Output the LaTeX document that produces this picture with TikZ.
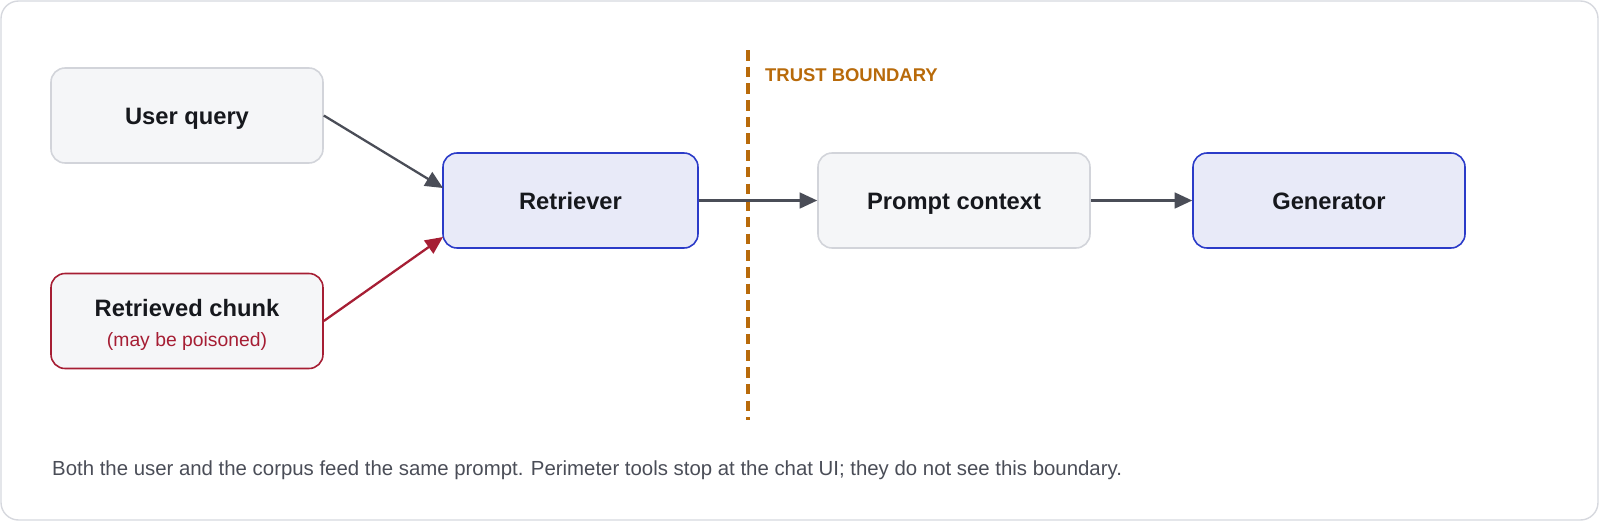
\documentclass[tikz,border=0pt]{standalone}
\usepackage{fontspec}
\setmainfont{Liberation Sans}
\usetikzlibrary{arrows.meta}
\definecolor{frame}{HTML}{D6D8DE}
\definecolor{nfill}{HTML}{F5F6F8}
\definecolor{ndraw}{HTML}{D2D4DA}
\definecolor{bfill}{HTML}{E8EAF8}
\definecolor{bdraw}{HTML}{2B3BC8}
\definecolor{rdraw}{HTML}{A61E34}
\definecolor{edge}{HTML}{4A4D57}
\definecolor{trust}{HTML}{B86A0A}
\definecolor{txt}{HTML}{16181D}
\definecolor{cap}{HTML}{4A4D57}
\begin{document}
\begin{tikzpicture}[x=0.02cm,y=-0.02cm,
  box/.style={draw=ndraw,fill=nfill,rounded corners=8pt,line width=0.9pt,minimum width=272*0.02cm,minimum height=95*0.02cm,align=center,text=txt,font=\bfseries\fontsize{13.5}{16}\selectfont},
  blue/.style={box,draw=bdraw,fill=bfill},
  red/.style={box,draw=rdraw},
  lbl/.style={text=txt,font=\bfseries\fontsize{13.5}{16}\selectfont,text height=10pt,text depth=3pt},
  arr/.style={-{Triangle[length=10pt,width=9pt]},line width=1.3pt,draw=edge}]
\useasboundingbox (0,0) rectangle (1600,522);
\draw[frame,line width=0.8pt,rounded corners=10pt] (1,1) rectangle (1598,520);
\node[box] (uq) at (187,115.5) {};
\node[lbl] (uqt) at (187,118) {User query};
\node[red] (rc) at (187,321) {};
\node[lbl] (rct) at (187,310) {Retrieved chunk};
\node[text=rdraw,font=\fontsize{11}{13}\selectfont] (rcs) at (187,341) {(may be poisoned)};
\node[blue,minimum width=255*0.02cm] (ret) at (570.5,200.5) {};
\node[lbl] (rett) at (570.5,203) {Retriever};
\node[box] (pc) at (954,200.5) {};
\node[lbl] (pct) at (954,203) {Prompt context};
\node[blue] (gen) at (1329,200.5) {};
\node[lbl] (gent) at (1329,203) {Generator};
\coordinate (t1) at (748,50); \coordinate (t2) at (748,420);
\draw[trust,line width=1.8pt,dash pattern=on 6pt off 3.5pt] (t1) -- (t2);
\node[anchor=west,text=trust,font=\bfseries\fontsize{10.5}{12}\selectfont] (tl) at (759,75) {TRUST BOUNDARY};
\draw[arr] (uq.east) -- (443,188);
\draw[arr,draw=rdraw] (rc.east) -- (443,237);
\draw[arr] (ret) -- (pc);
\draw[arr] (pc) -- (gen);
\node[anchor=west,text=cap,font=\fontsize{11.6}{14}\selectfont] (capt) at (46,470) {Both the user and the corpus feed the same prompt. Perimeter tools stop at the chat UI; they do not see this boundary.};
\end{tikzpicture}
\end{document}
